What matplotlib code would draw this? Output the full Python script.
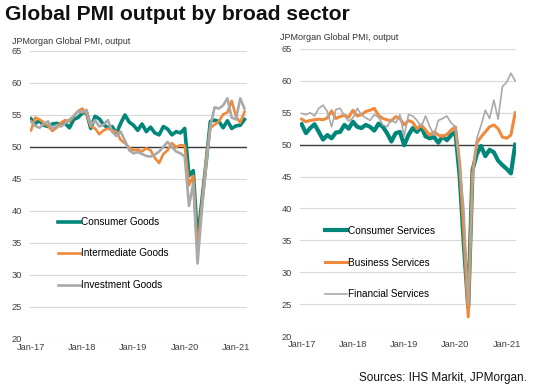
import matplotlib.pyplot as plt

plt.rcParams['font.family'] = ['Liberation Sans', 'DejaVu Sans']

# monthly data, Jan-17 .. Mar-21
tick_pos = [0, 12, 24, 36, 48]
tick_labels = ['Jan-17', 'Jan-18', 'Jan-19', 'Jan-20', 'Jan-21']

consumer_goods = [54.4, 53.7, 54.1, 53.4, 53.2, 53.6, 53.7, 53.5, 53.7, 53.0, 54.3, 54.6,
                  55.3, 55.4, 52.9, 54.8, 54.4, 53.5, 53.0, 53.2, 52.1, 53.7, 55.0, 53.9,
                  53.4, 52.6, 53.6, 52.4, 53.1, 52.2, 51.9, 53.2, 52.8, 51.9, 52.4, 52.2,
                  52.9, 45.5, 46.3, 35.3, 41.5, 47.5, 54.0, 54.2, 54.0, 53.0, 54.1, 52.9,
                  53.3, 53.4, 54.3]
intermediate_goods = [52.6, 54.6, 54.3, 53.8, 53.3, 52.5, 53.0, 53.8, 54.2, 54.0, 54.8, 55.6,
                      56.0, 55.2, 53.2, 52.9, 52.0, 52.6, 52.9, 52.6, 52.4, 51.1, 50.6, 49.9,
                      49.5, 49.6, 49.3, 49.8, 49.5, 48.3, 47.5, 48.9, 49.5, 50.6, 50.0, 50.3,
                      50.2, 44.0, 45.5, 33.6, 41.0, 48.0, 53.0, 53.5, 54.0, 55.1, 55.4, 57.2,
                      54.8, 53.8, 55.5]
investment_goods = [54.0, 53.3, 53.0, 53.6, 54.0, 52.8, 53.4, 53.2, 53.7, 54.3, 54.8, 55.6,
                    55.4, 55.8, 53.4, 54.2, 53.2, 53.5, 54.2, 52.4, 51.7, 52.4, 51.0, 49.5,
                    49.0, 49.2, 48.9, 48.6, 48.5, 48.8, 49.3, 50.0, 50.8, 50.0, 49.3, 49.0,
                    48.5, 40.8, 44.3, 31.8, 40.0, 47.0, 53.3, 56.2, 56.0, 56.5, 57.6, 54.6,
                    54.3, 57.6, 56.0]

consumer_services = [53.2, 51.8, 52.6, 53.2, 52.0, 50.8, 51.5, 51.0, 51.9, 52.0, 53.1, 52.5,
                     53.6, 52.8, 52.6, 53.1, 52.8, 52.2, 53.3, 52.8, 51.8, 50.5, 51.8, 52.0,
                     49.9, 51.5, 52.6, 52.0, 52.8, 51.3, 51.0, 51.2, 50.3, 51.3, 50.7, 51.5,
                     52.0, 45.0, 34.0, 24.5, 46.0, 48.5, 49.8, 48.2, 49.2, 48.8, 47.5, 46.8,
                     46.2, 45.5, 50.0]
business_services = [54.0, 53.6, 53.8, 53.9, 54.0, 53.9, 54.2, 55.3, 54.1, 54.4, 54.6, 54.3,
                     55.4, 54.5, 54.7, 55.2, 55.4, 55.7, 54.6, 54.1, 53.9, 53.7, 54.4, 54.1,
                     53.1, 53.8, 53.5, 52.5, 53.1, 52.3, 51.5, 52.0, 51.5, 51.3, 51.6, 52.3,
                     52.8, 47.0, 36.0, 23.0, 45.5, 50.3, 51.2, 52.0, 52.8, 53.1, 52.5, 51.2,
                     51.0, 51.5, 55.0]
financial_services = [54.9, 54.7, 55.0, 54.5, 55.7, 56.2, 55.2, 52.8, 55.5, 55.7, 54.5, 53.7,
                      54.2, 55.7, 54.7, 54.2, 53.8, 54.7, 54.3, 53.1, 52.8, 54.0, 53.4, 54.7,
                      51.3, 54.7, 54.5, 53.8, 52.8, 54.5, 52.8, 51.5, 53.8, 54.1, 54.5, 53.4,
                      52.8, 46.5, 40.0, 25.0, 44.0, 51.0, 53.0, 55.4, 54.1, 57.0, 54.0, 59.1,
                      59.8, 61.2, 60.0]

TEAL = '#00877a'
ORANGE = '#ef8a3c'
GRAY = '#a9a9a9'

W, H = 539, 391
fig = plt.figure(figsize=(W / 100, H / 100), dpi=100)


def px_axes(x0, y0, x1, y1):
    return fig.add_axes([x0 / W, 1 - y1 / H, (x1 - x0) / W, (y1 - y0) / H])


def style(ax, x_first, x_right):
    step = 4.27
    ax.set_xlim(-(x_first) / step, x_right / step)
    ax.set_ylim(20, 65)
    ax.set_yticks(range(20, 70, 5))
    ax.set_xticks(tick_pos)
    ax.set_xticklabels(tick_labels)
    for s in ax.spines.values():
        s.set_visible(False)
    ax.grid(axis='y', color='#d9d9d9', lw=0.8)
    ax.set_axisbelow(True)
    ax.axhline(50, color='#3a3a3a', lw=1.0, zorder=1.5)
    ax.tick_params(length=0, labelsize=6.7, colors='#404040')
    ax.tick_params(axis='y', pad=6)
    ax.tick_params(axis='x', pad=3)


def add_legend(ax, x, y):
    ax.legend(loc='upper left', bbox_to_anchor=(x / W, 1 - y / H), bbox_transform=fig.transFigure,
              frameon=False, fontsize=7.2, handlelength=2.2, handletextpad=0.1,
              labelspacing=2.15, borderaxespad=0, borderpad=0)


months = list(range(len(consumer_goods)))

ax1 = px_axes(30, 51, 247, 339)
style(ax1, 1, 216)
ax1.plot(months, consumer_goods, color=TEAL, lw=2.6, label='Consumer Goods', zorder=3)
ax1.plot(months, intermediate_goods, color=ORANGE, lw=1.9, label='Intermediate Goods', zorder=3)
ax1.plot(months, investment_goods, color=GRAY, lw=1.9, label='Investment Goods', zorder=3)
add_legend(ax1, 58, 217)

ax2 = px_axes(300, 49, 516, 336)
style(ax2, 1.7, 214.3)
ax2.plot(months, consumer_services, color=TEAL, lw=3.0, label='Consumer Services', zorder=3)
ax2.plot(months, business_services, color=ORANGE, lw=2.2, label='Business Services', zorder=3)
ax2.plot(months, financial_services, color=GRAY, lw=1.2, label='Financial Services', zorder=3)
add_legend(ax2, 325, 226)

fig.text(5 / W, 1 - 15 / H, 'Global PMI output by broad sector', fontsize=15.2,
         fontweight='bold', va='center', ha='left', color='#111111')
fig.text(12 / W, 1 - 41 / H, 'JPMorgan Global PMI, output', fontsize=6.5,
         color='#333333', va='center')
fig.text(280 / W, 1 - 37 / H, 'JPMorgan Global PMI, output', fontsize=6.5,
         color='#333333', va='center')
fig.text(527 / W, 1 - 378 / H, 'Sources: IHS Markit, JPMorgan.', fontsize=8.5,
         ha='right', va='center', color='#111111')

fig.savefig('out.png', dpi=100)
